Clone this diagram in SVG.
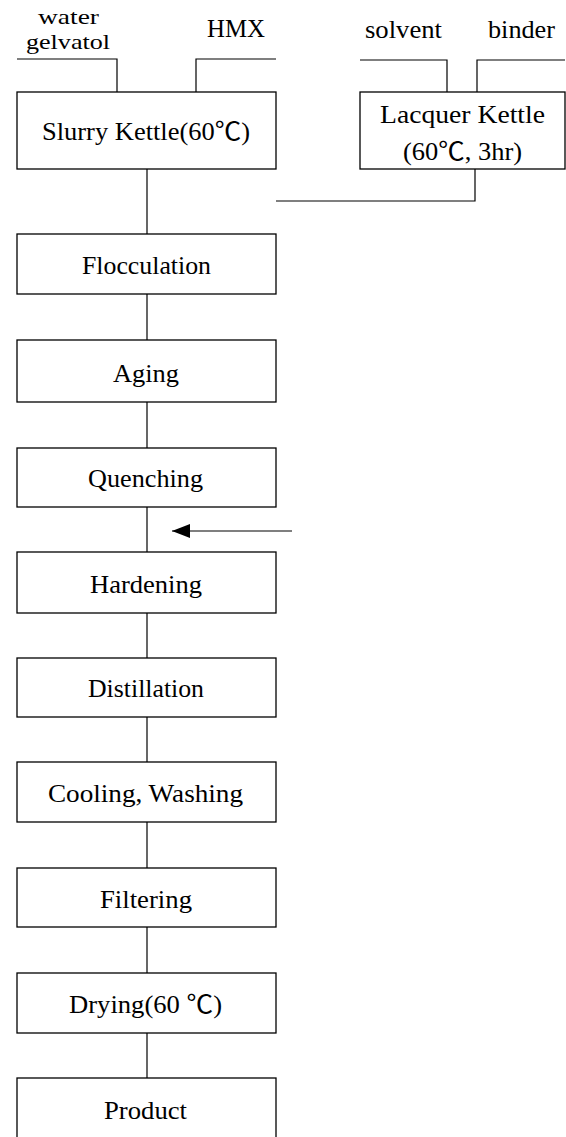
<svg xmlns="http://www.w3.org/2000/svg" width="566" height="1137" viewBox="0 0 566 1137">
<style>
.box{fill:#fff;stroke:#000;stroke-width:1.3}
.ln{fill:none;stroke:#000;stroke-width:1.2}
text{font-family:"Liberation Serif","Noto Sans CJK KR",serif;font-size:25px;fill:#000;text-anchor:middle}
.sm{font-size:22px}
</style>
<defs>
<marker id="ah" markerWidth="18" markerHeight="14" refX="18" refY="7" orient="auto" markerUnits="userSpaceOnUse">
<path d="M0,0 L18,7 L0,14 Z" fill="#000"/>
</marker>
</defs>
<rect width="566" height="1137" fill="#fff"/>
<g id="connectors">
<path class="ln" d="M17,59 H117 V92"/>
<path class="ln" d="M276,59 H196 V92"/>
<path class="ln" d="M360,60 H447 V92"/>
<path class="ln" d="M565,60 H477 V92"/>
<path class="ln" d="M475,169 V201 H276"/>
<path class="ln" d="M147,169 V234"/>
<path class="ln" d="M147,294 V340"/>
<path class="ln" d="M147,402 V448"/>
<path class="ln" d="M147,507 V552"/>
<path class="ln" d="M147,613 V658"/>
<path class="ln" d="M147,717 V762"/>
<path class="ln" d="M147,822 V868"/>
<path class="ln" d="M147,927 V973"/>
<path class="ln" d="M147,1033 V1078"/>
<path class="ln" d="M292,531 H172" marker-end="url(#ah)"/>
</g>
<g id="inputs">
<text class="sm" x="68.5" y="24" textLength="61" lengthAdjust="spacingAndGlyphs">water</text>
<text class="sm" x="68" y="49" textLength="84" lengthAdjust="spacingAndGlyphs">gelvatol</text>
<text x="236" y="37" textLength="58" lengthAdjust="spacingAndGlyphs">HMX</text>
<text x="403.5" y="38" textLength="77" lengthAdjust="spacingAndGlyphs">solvent</text>
<text x="521.5" y="38" textLength="67" lengthAdjust="spacingAndGlyphs">binder</text>
</g>
<g id="slurry">
<rect class="box" x="17" y="92" width="259" height="77"/>
<text x="146" y="140" textLength="208" lengthAdjust="spacingAndGlyphs">Slurry Kettle(60℃)</text>
</g>
<g id="lacquer">
<rect class="box" x="360" y="92" width="205" height="77"/>
<text x="462.5" y="123" textLength="165" lengthAdjust="spacingAndGlyphs">Lacquer Kettle</text>
<text x="462.5" y="160" textLength="119" lengthAdjust="spacingAndGlyphs">(60℃, 3hr)</text>
</g>
<g id="flocculation">
<rect class="box" x="17" y="234" width="259" height="60"/>
<text x="146.5" y="274" textLength="129" lengthAdjust="spacingAndGlyphs">Flocculation</text>
</g>
<g id="aging">
<rect class="box" x="17" y="340" width="259" height="62"/>
<text x="146" y="382" textLength="66" lengthAdjust="spacingAndGlyphs">Aging</text>
</g>
<g id="quenching">
<rect class="box" x="17" y="448" width="259" height="59"/>
<text x="145.5" y="487" textLength="115" lengthAdjust="spacingAndGlyphs">Quenching</text>
</g>
<g id="hardening">
<rect class="box" x="17" y="552" width="259" height="61"/>
<text x="146" y="593" textLength="112" lengthAdjust="spacingAndGlyphs">Hardening</text>
</g>
<g id="distillation">
<rect class="box" x="17" y="658" width="259" height="59"/>
<text x="146" y="697" textLength="116" lengthAdjust="spacingAndGlyphs">Distillation</text>
</g>
<g id="cooling">
<rect class="box" x="17" y="762" width="259" height="60"/>
<text x="145.5" y="802" textLength="195" lengthAdjust="spacingAndGlyphs">Cooling, Washing</text>
</g>
<g id="filtering">
<rect class="box" x="17" y="868" width="259" height="59"/>
<text x="146" y="908" textLength="92" lengthAdjust="spacingAndGlyphs">Filtering</text>
</g>
<g id="drying">
<rect class="box" x="17" y="973" width="259" height="60"/>
<text x="145.5" y="1013" textLength="153" lengthAdjust="spacingAndGlyphs">Drying(60 ℃)</text>
</g>
<g id="product">
<rect class="box" x="17" y="1078" width="259" height="70"/>
<text x="145.5" y="1119" textLength="83" lengthAdjust="spacingAndGlyphs">Product</text>
</g>
</svg>
